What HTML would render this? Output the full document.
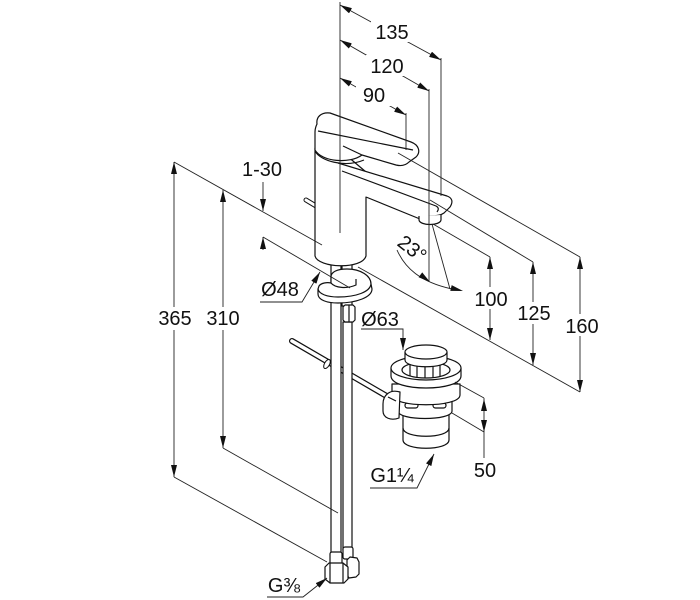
<!DOCTYPE html>
<html><head><meta charset="utf-8"><style>
html,body{margin:0;padding:0;background:#fff;}
svg{display:block;}
text{font-family:"Liberation Sans",Arial,sans-serif;font-size:20px;fill:#111;}
</style></head><body>
<svg width="700" height="600" viewBox="0 0 700 600" xmlns="http://www.w3.org/2000/svg">
<defs>
<marker id="a" viewBox="0 0 12 6" refX="12" refY="3" markerWidth="12" markerHeight="6" markerUnits="userSpaceOnUse" orient="auto-start-reverse"><path d="M0,0L12,3L0,6z" fill="#111"/></marker>
</defs>
<rect width="700" height="600" fill="#fff"/>

<!-- pop-up rod -->
<line x1="292" y1="341" x2="390" y2="398" stroke="#111" stroke-width="6" stroke-linecap="round"/>
<line x1="292" y1="341" x2="390" y2="398" stroke="#fff" stroke-width="3.6" stroke-linecap="round"/>
<ellipse cx="327" cy="364" rx="2.5" ry="5" transform="rotate(30 327 364)" fill="#fff" stroke="#111" stroke-width="1"/>

<!-- pin at body -->
<line x1="306" y1="200" x2="316" y2="206" stroke="#111" stroke-width="5" stroke-linecap="round"/>
<line x1="306" y1="200" x2="316" y2="206" stroke="#fff" stroke-width="3" stroke-linecap="round"/>

<g fill="#fff" stroke="#111" stroke-width="1.2" stroke-linejoin="round">
  <!-- pipes -->
  <rect x="331" y="262" width="10" height="292"/>
  <rect x="342" y="262" width="10" height="44"/>
  <rect x="343" y="322" width="9" height="228"/>
  <!-- hex nut -->
  <path d="M343,307 L345,305 L353,305 L355,307 L355,320 L353,322 L345,322 L343,320 Z"/>
  <line x1="349" y1="305" x2="349" y2="322"/>
  <!-- ferrules and nuts at bottom -->
  <rect x="343" y="547" width="10" height="12" rx="2"/>
  <path d="M347,560 L350,557 L357,558 L359,562 L359,574 L356,577 L349,578 L347,575 Z"/>
  <rect x="330" y="552" width="12" height="13" rx="2"/>
  <path d="M325,567 L329,563 L343,563 L348,567 L348,579 L344,583 L330,583 L325,579 Z"/>
  <line x1="330" y1="563" x2="330" y2="583"/>
  <line x1="343" y1="563" x2="343" y2="583"/>

  <!-- washer (C-shape) -->
  <path d="M318,289 L318,294 C318,300 327,303 338,303 C357,303 372,297 372,289 L371,284 C371,276 361,269 347,269 C337,269 331,272 331,277 L331,283 C327,282 321,283 319,286 Z"/>
  <path d="M318,289 C319,294 327,297 338,297 C356,297 370,292 371,284" fill="none"/>
  <path d="M331,283 C335,288 347,289 356,285 L356,279" fill="none"/>

  <!-- body -->
  <path d="M315,148 L315,256 C318,268 362,270 366,256 L366,172 L340,150 Z"/>
  <!-- spout -->
  <path d="M338,163 L447,196 Q455,199 450,207 L444,213 Q440,216 430,216 L420,219 L366,197"/>
  <path d="M342,171 L436,206 Q440,208 437,212" fill="none"/>
  <!-- aerator -->
  <path d="M419,216 L419,220 C420,226 440,226 441,220 L441,215" />
  <!-- handle -->
  <path d="M317,124 C316,117 321,112 330,113 L411,142 C419,145 421,152 416,157 L409,162 C405,166 400,166 396,165 L362,155 C350,164 322,162 315,150 L315,132 C315,128 316,126 317,124 Z"/>
  <path d="M318,131 L413,150" fill="none"/>
  <path d="M343,146 L362,155" fill="none"/>
  <path d="M315,151 C320,161 345,168 364,160" fill="none"/>

  <!-- drain assembly -->
  <path d="M403,410 L403,440 C403,451 449,451 449,440 L449,410 Z"/>
  <path d="M403,428 C403,439 449,439 449,428" fill="none"/>
  <path d="M398,398 L398,411 C398,421 452,421 452,411 L452,398 Z"/>
  <rect x="405" y="403" width="13" height="5" rx="2.5"/>
  <rect x="433" y="403" width="13" height="5" rx="2.5"/>
  <path d="M392,384 L392,395 C392,408 460,408 460,395 L460,384 Z"/>
  <path d="M391,368 L391,376 C391,392 461,392 461,376 L461,368 Z"/>
  <ellipse cx="426" cy="368" rx="35" ry="12"/>
  <ellipse cx="426" cy="370" rx="24" ry="8"/>
  <g fill="none">
    <line x1="410" y1="363" x2="410" y2="376"/>
    <line x1="417" y1="364" x2="417" y2="377"/>
    <line x1="425" y1="365" x2="425" y2="378"/>
    <line x1="433" y1="365" x2="433" y2="378"/>
    <line x1="440" y1="364" x2="440" y2="377"/>
  </g>
  <path d="M405,352 L405,360 C405,369 447,369 447,360 L447,352 Z"/>
  <ellipse cx="426" cy="352" rx="21" ry="7"/>
  <!-- clamp -->
  <path d="M400,392 C390,389 383,395 383,404 L383,411 C383,418 391,421 399,418 Z"/>
  <path d="M388,397 L396,401" fill="none"/>
</g>

<!-- dimension and extension lines -->
<g stroke="#222" stroke-width="0.9" fill="none">
  <line x1="340" y1="2" x2="340" y2="233"/>
  <line x1="441" y1="58" x2="441" y2="196"/>
  <line x1="429" y1="89" x2="429" y2="282"/>
  <line x1="406" y1="113" x2="406" y2="150"/>
  <line x1="174" y1="162" x2="322" y2="245"/>
  <line x1="263" y1="237" x2="350" y2="288"/>
  <line x1="174" y1="477" x2="327" y2="562"/>
  <line x1="223" y1="448" x2="338" y2="513"/>
  <line x1="398" y1="153" x2="580" y2="257"/>
  <line x1="430" y1="200" x2="533" y2="262"/>
  <line x1="433" y1="224" x2="490" y2="257"/>
  <line x1="358" y1="267" x2="580" y2="392"/>
  <line x1="455" y1="382" x2="484" y2="398"/>
  <line x1="452" y1="413" x2="484" y2="432"/>
  <line x1="484" y1="398" x2="484" y2="458"/>
  <line x1="432" y1="224" x2="450" y2="289"/>
  <path d="M397,250 C405,268 420,282 452,289"/>

  <line x1="340" y1="5" x2="441" y2="60" marker-start="url(#a)" marker-end="url(#a)"/>
  <line x1="340" y1="40" x2="429" y2="91" marker-start="url(#a)" marker-end="url(#a)"/>
  <line x1="340" y1="78" x2="406" y2="115" marker-start="url(#a)" marker-end="url(#a)"/>
  <line x1="174" y1="162" x2="174" y2="477" marker-start="url(#a)" marker-end="url(#a)"/>
  <line x1="223" y1="190" x2="223" y2="448" marker-start="url(#a)" marker-end="url(#a)"/>
  <line x1="490" y1="257" x2="490" y2="340" marker-start="url(#a)" marker-end="url(#a)"/>
  <line x1="533" y1="262" x2="533" y2="365" marker-start="url(#a)" marker-end="url(#a)"/>
  <line x1="580" y1="257" x2="580" y2="392" marker-start="url(#a)" marker-end="url(#a)"/>
  <line x1="263" y1="182" x2="263" y2="211" marker-end="url(#a)"/>
  <line x1="263" y1="250" x2="263" y2="237" marker-end="url(#a)"/>

  <polyline points="260,302 302,302 320,272" marker-end="url(#a)"/>
  <polyline points="361,329 403,329 403,350" marker-end="url(#a)"/>
  <polyline points="370,488 417,488 434,454" marker-end="url(#a)"/>
  <polyline points="267,597 303,597 327,578" marker-end="url(#a)"/>
</g>
<g fill="#111" stroke="none">
  <path d="M484,399 L481,411 L487,411 Z"/>
  <path d="M484,432 L481,420 L487,420 Z"/>
  <path d="M430,282 L418.6,277.2 L422.2,272.4 Z"/>
  <path d="M463,291 L450.3,290.9 L451.7,285.1 Z"/>
</g>

<g fill="#fff">
  <rect x="371" y="21" width="42" height="21"/>
  <rect x="366" y="55" width="40" height="21"/>
  <rect x="356" y="85" width="36" height="21"/>
  <rect x="157" y="307" width="36" height="23"/>
  <rect x="205" y="307" width="36" height="23"/>
  <rect x="473" y="287" width="36" height="22"/>
  <rect x="516" y="302" width="36" height="22"/>
  <rect x="563" y="314" width="37" height="22"/>
</g>

<g text-anchor="middle">
  <text x="392" y="39">135</text>
  <text x="387" y="73">120</text>
  <text x="374" y="102">90</text>
  <text x="262" y="176">1-30</text>
  <text x="175" y="325">365</text>
  <text x="223" y="325">310</text>
  <text x="280" y="296">Ø48</text>
  <text x="380" y="326">Ø63</text>
  <text x="491" y="306">100</text>
  <text x="534" y="320">125</text>
  <text x="582" y="333">160</text>
  <text x="485" y="477">50</text>
  <text x="392" y="482">G1¼</text>
  <text x="284" y="592">G⅜</text>
  <text transform="translate(412,249) rotate(38)" x="0" y="6.5">23°</text>
</g>
</svg>
</body></html>
